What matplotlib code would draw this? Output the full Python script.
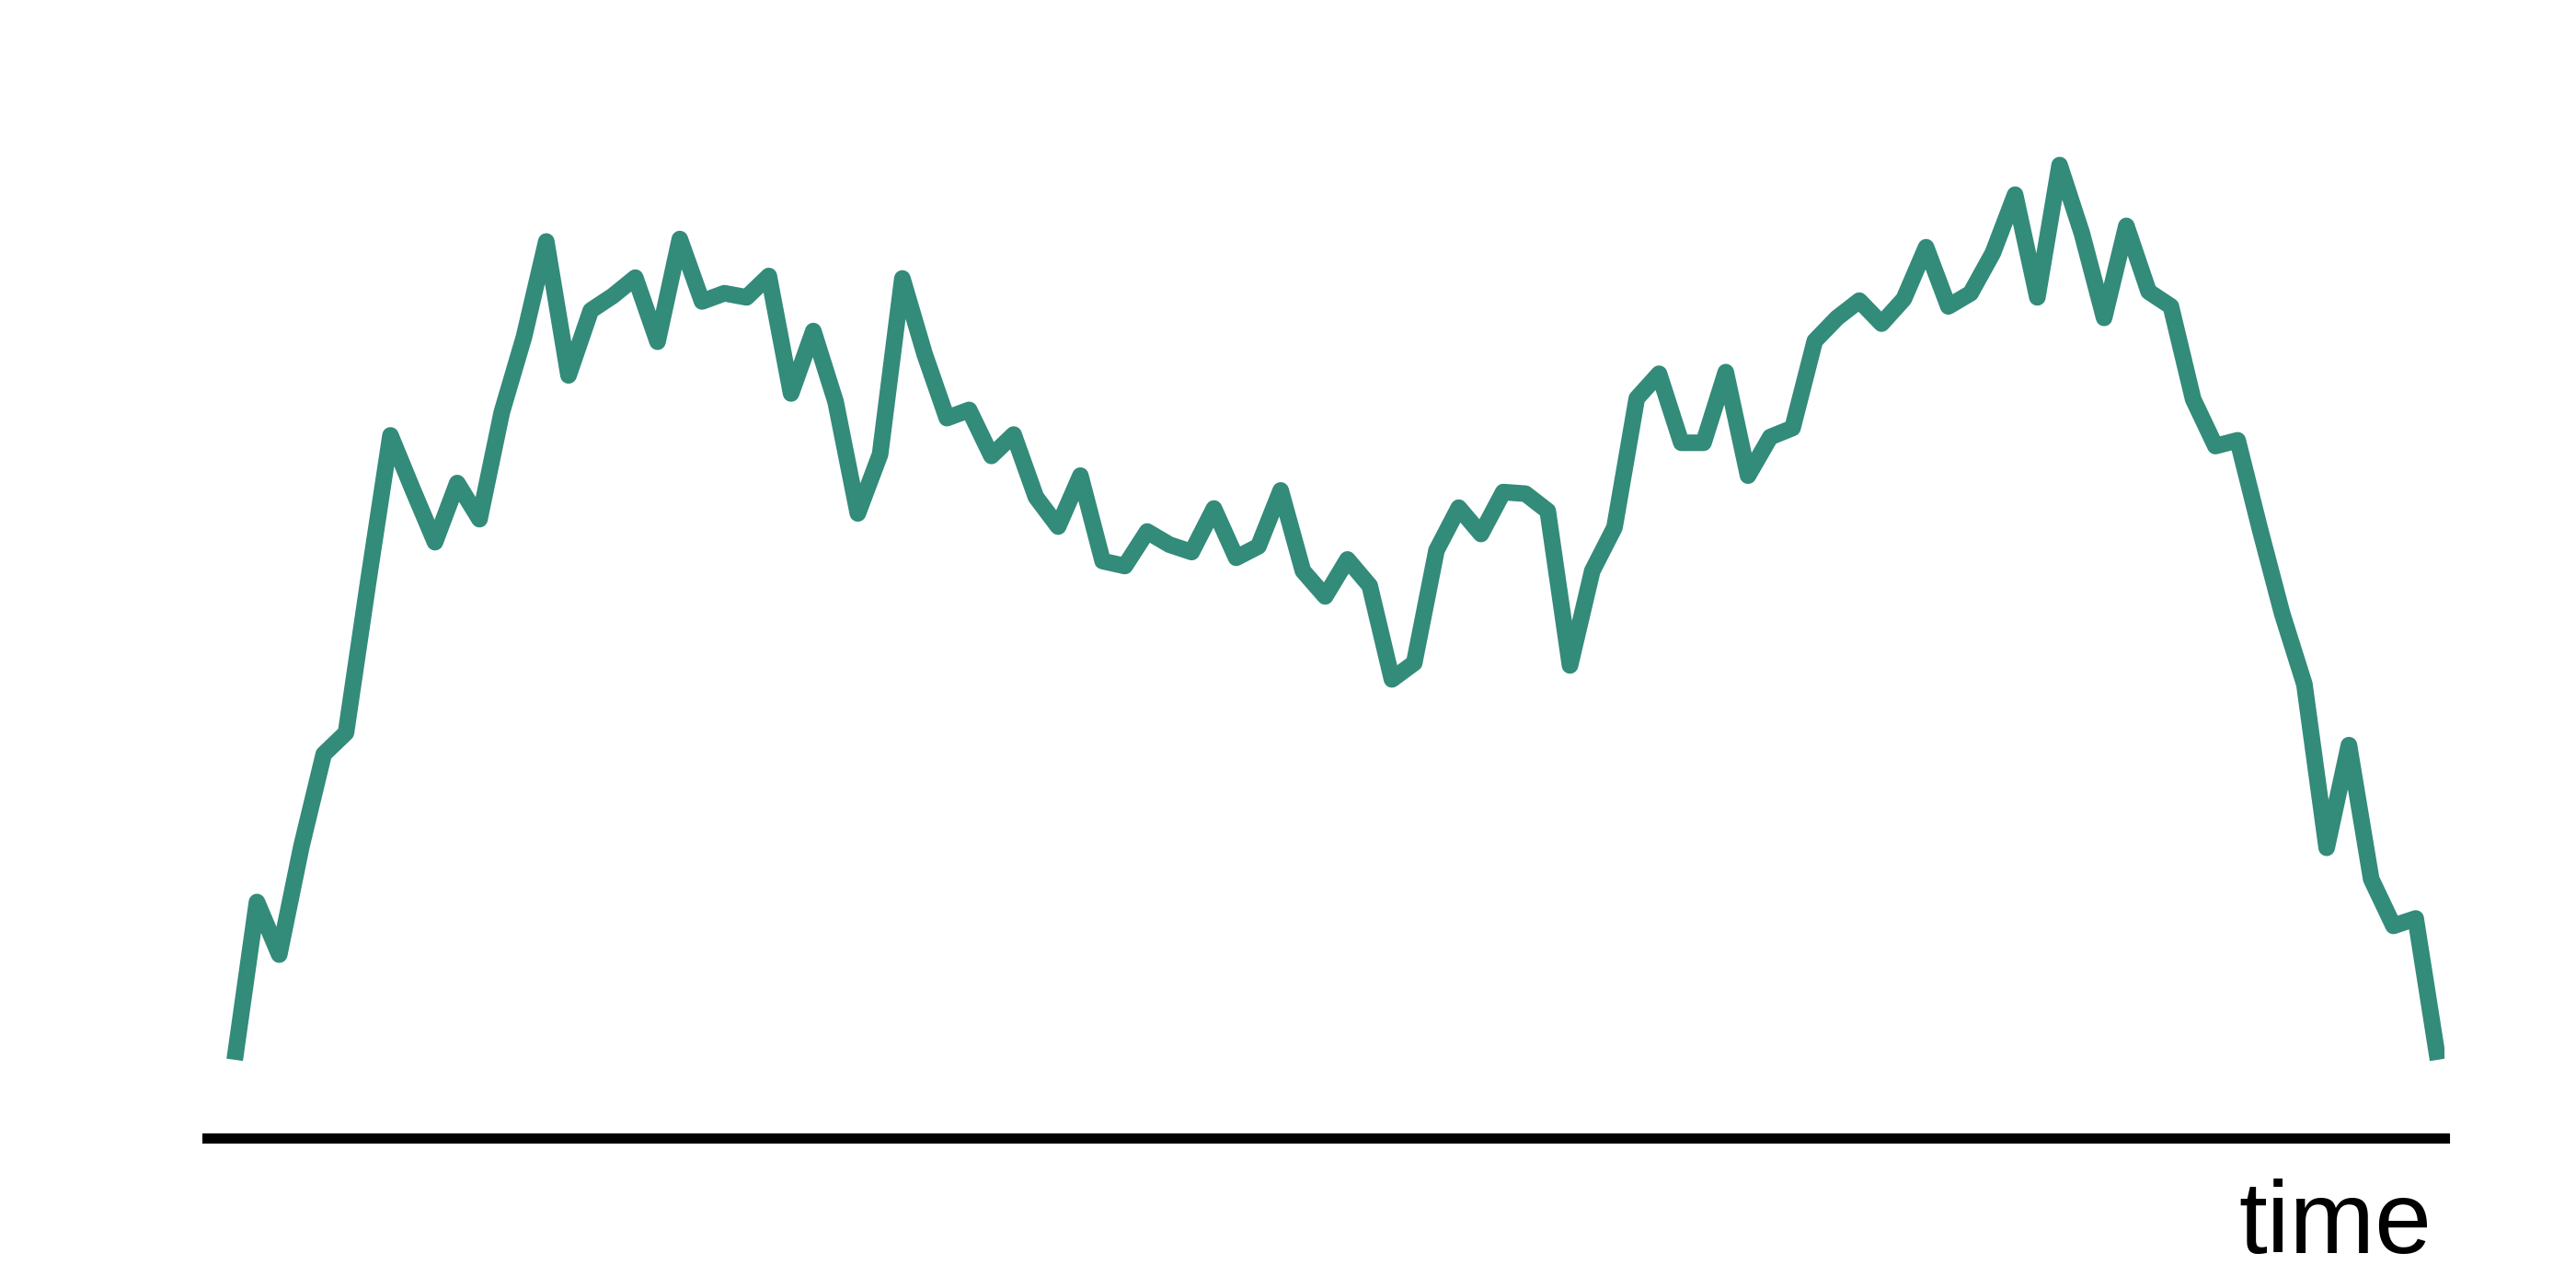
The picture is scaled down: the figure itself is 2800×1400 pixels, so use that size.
import matplotlib
matplotlib.use("Agg")
import matplotlib.pyplot as plt
import numpy as np

# valores (100 muestras)
serie = [
    4.75, 14.35, 11.15, 17.75, 23.35, 24.65, 33.85, 42.75, 39.45, 36.25,
    39.85, 37.65, 44.15, 48.75, 54.55, 46.4, 50.35, 51.25, 52.35, 48.45,
    54.7, 50.9, 51.4, 51.15, 52.45, 45.3, 49.1, 44.8, 38.0, 41.6,
    52.3, 47.7, 43.8, 44.3, 41.5, 42.8, 39.0, 37.2, 40.3, 35.1,
    34.8, 36.9, 36.1, 35.65, 38.3, 35.3, 36.0, 39.4, 34.5, 32.95,
    35.2, 33.6, 27.9, 28.9, 35.75, 38.35, 36.75, 39.3, 39.2, 38.15,
    28.75, 34.5, 37.15, 45.0, 46.5, 42.3, 42.3, 46.6, 40.3, 42.65,
    43.2, 48.5, 49.9, 50.95, 49.55, 51.05, 54.2, 50.6, 51.4, 53.85,
    57.4, 51.15, 59.2, 55.05, 49.9, 55.5, 51.5, 50.6, 44.95, 42.1,
    42.45, 37.05, 31.9, 27.6, 17.65, 23.9, 15.75, 12.9, 13.35, 4.75,
]
tiempo = np.arange(len(serie))
etiqueta_x = "time"

plt.rcParams["font.family"] = ["Liberation Sans", "DejaVu Sans"]

fig = plt.figure(figsize=(14, 7), dpi=200)
ax = fig.add_axes([0.0804, 0.1166, 0.949 - 0.0804, 0.9286 - 0.1166])

ax.plot(tiempo, serie, color="#338b7a", linewidth=6.5,
        solid_joinstyle="round", solid_capstyle="butt")

ax.set_xlim(-1.24, 99.3)
ax.set_ylim(0, 63.65)

# solo queda el eje inferior
for lado in ["top", "right", "left"]:
    ax.spines[lado].set_visible(False)
ax.spines["bottom"].set_linewidth(4.0)
ax.spines["bottom"].set_color("black")
ax.set_xticks([])
ax.set_yticks([])

fig.text(0.944, 0.0274, etiqueta_x, ha="right", va="baseline",
         fontsize=40, color="black")

fig.savefig("out.png", dpi=200, facecolor="white")
